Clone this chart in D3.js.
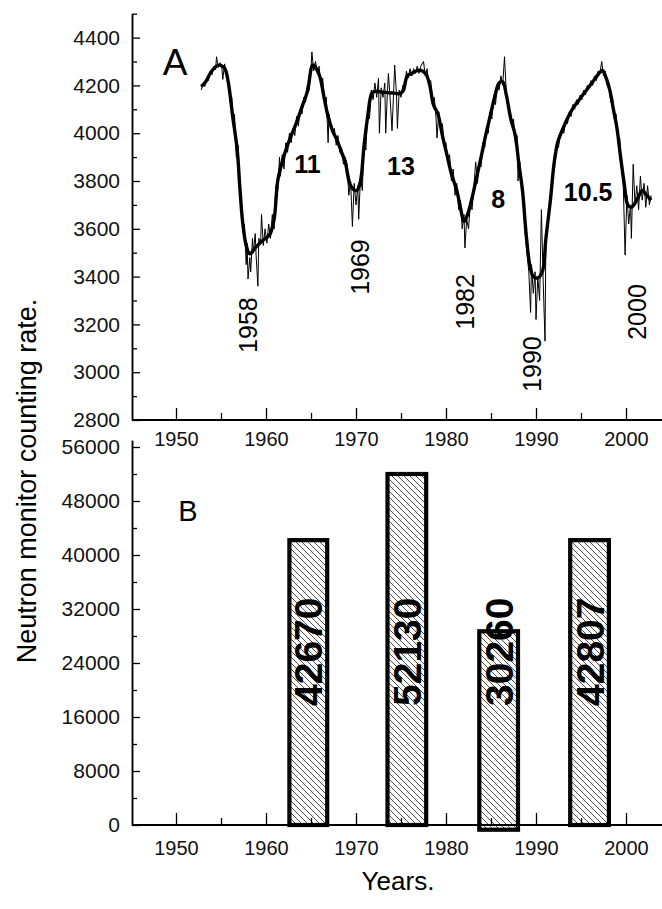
<!DOCTYPE html>
<html>
<head>
<meta charset="utf-8">
<script src="https://cdn.jsdelivr.net/npm/d3@7"></script>
<style>
  html, body { margin: 0; padding: 0; background: #fff; }
  svg { display: block; font-family: Arial, "Liberation Sans", sans-serif; }
</style>
</head>
<body>
<svg id="chart" width="662" height="909"></svg>
<script>
// ---------------- DATA ----------------
// Panel A: smoothed neutron monitor counting rate (thick line)
const smoothYears = [1952.8,1953.3,1953.8,1954.3,1954.8,1955.4,1955.8,1956.3,1956.8,1957.1,1957.4,1957.8,1958.2,1958.8,1959.6,1960.4,1960.9,1961.3,1961.8,1962.3,1962.8,1963.4,1964.0,1964.6,1965.2,1965.6,1966.0,1966.5,1966.9,1967.4,1967.9,1968.4,1968.8,1969.3,1969.7,1970.1,1970.5,1970.9,1971.3,1971.8,1972.3,1972.9,1973.5,1974.1,1974.7,1975.2,1975.7,1976.2,1976.8,1977.3,1977.8,1978.2,1978.6,1979.1,1979.6,1980.1,1980.6,1981.2,1981.6,1982.0,1982.4,1982.9,1983.4,1983.9,1984.4,1984.9,1985.4,1985.9,1986.3,1986.7,1987.2,1987.7,1988.1,1988.5,1988.9,1989.3,1989.7,1990.2,1990.7,1991.1,1991.6,1992.0,1992.4,1993.0,1993.6,1994.2,1994.8,1995.4,1996.0,1996.6,1997.1,1997.4,1997.8,1998.2,1998.6,1999.0,1999.4,1999.8,2000.2,2000.6,2001.2,2001.8,2002.3,2002.8];
const smoothRates = [4195,4215,4250,4275,4285,4272,4215,4070,3930,3770,3630,3530,3495,3520,3550,3575,3640,3800,3880,3940,3990,4045,4110,4175,4285,4270,4235,4140,4070,4010,3970,3920,3880,3790,3765,3760,3800,3950,4070,4170,4175,4172,4170,4168,4165,4175,4240,4250,4262,4262,4245,4200,4120,4080,3990,3910,3830,3760,3690,3630,3660,3730,3815,3900,3990,4070,4150,4210,4215,4160,4060,3990,3870,3760,3580,3450,3400,3395,3420,3560,3720,3870,3960,4020,4070,4110,4140,4170,4200,4230,4255,4262,4230,4180,4100,4020,3900,3790,3700,3690,3720,3760,3740,3720];

// Panel A: monthly (noisy) counting rate (thin line)
const monthlyYears = [1952.8,1953.0,1953.2,1953.4,1953.6,1953.8,1954.0,1954.2,1954.4,1954.5,1954.7,1954.9,1955.1,1955.2,1955.4,1955.6,1955.8,1956.0,1956.2,1956.3,1956.5,1956.7,1956.9,1957.1,1957.3,1957.5,1957.6,1957.8,1957.9,1958.0,1958.2,1958.3,1958.5,1958.6,1958.8,1958.9,1959.1,1959.2,1959.4,1959.5,1959.7,1959.9,1960.1,1960.3,1960.5,1960.7,1960.9,1961.1,1961.3,1961.5,1961.6,1961.8,1962.0,1962.2,1962.4,1962.6,1962.8,1963.0,1963.2,1963.4,1963.6,1963.8,1964.0,1964.2,1964.4,1964.6,1964.8,1965.0,1965.1,1965.3,1965.5,1965.7,1965.9,1966.1,1966.3,1966.5,1966.7,1966.9,1967.0,1967.2,1967.4,1967.6,1967.8,1968.0,1968.2,1968.4,1968.6,1968.8,1969.0,1969.2,1969.4,1969.6,1969.8,1970.0,1970.2,1970.3,1970.5,1970.7,1970.9,1971.1,1971.3,1971.5,1971.7,1971.9,1972.1,1972.3,1972.5,1972.6,1972.8,1973.0,1973.2,1973.3,1973.5,1973.6,1973.8,1974.0,1974.2,1974.3,1974.5,1974.6,1974.8,1975.0,1975.2,1975.4,1975.6,1975.8,1976.0,1976.2,1976.4,1976.6,1976.8,1977.0,1977.2,1977.5,1977.7,1977.9,1978.1,1978.3,1978.5,1978.7,1978.9,1979.0,1979.2,1979.4,1979.6,1979.8,1980.0,1980.2,1980.4,1980.6,1980.8,1981.0,1981.2,1981.4,1981.6,1981.8,1982.0,1982.1,1982.3,1982.5,1982.7,1982.9,1983.1,1983.3,1983.5,1983.7,1983.9,1984.1,1984.3,1984.5,1984.7,1984.9,1985.1,1985.3,1985.5,1985.7,1985.9,1986.1,1986.3,1986.5,1986.7,1986.9,1987.1,1987.3,1987.5,1987.7,1987.9,1988.0,1988.2,1988.4,1988.6,1988.8,1989.0,1989.2,1989.4,1989.5,1989.7,1989.9,1990.0,1990.2,1990.4,1990.6,1990.8,1991.0,1991.1,1991.3,1991.5,1991.7,1991.9,1992.1,1992.3,1992.5,1992.7,1992.9,1993.1,1993.3,1993.5,1993.7,1993.9,1994.1,1994.3,1994.5,1994.7,1994.9,1995.1,1995.3,1995.5,1995.7,1995.9,1996.1,1996.3,1996.5,1996.7,1996.9,1997.1,1997.3,1997.5,1997.7,1997.9,1998.1,1998.3,1998.5,1998.7,1998.9,1999.1,1999.3,1999.5,1999.7,1999.9,2000.1,2000.3,2000.5,2000.6,2000.8,2001.0,2001.2,2001.4,2001.6,2001.8,2002.0,2002.2,2002.4,2002.6,2002.8];
const monthlyRates = [4180,4205,4195,4230,4220,4260,4245,4280,4265,4320,4275,4295,4270,4225,4290,4250,4230,4130,4150,4040,4080,3900,3950,3740,3680,3580,3620,3450,3540,3390,3480,3420,3560,3500,3580,3490,3360,3560,3540,3660,3530,3600,3540,3620,3560,3660,3600,3780,3760,3900,3820,3910,3850,3960,3920,4000,3960,4020,3990,4070,4030,4100,4080,4150,4130,4200,4180,4270,4340,4260,4300,4250,4280,4200,4230,4120,4150,3960,4080,4030,4000,4020,3950,3990,3920,3940,3870,3900,3870,3740,3800,3610,3790,3700,3780,3640,3820,3760,3960,3930,4090,4060,4180,4140,4210,4150,4230,4000,4190,4150,4210,4000,4180,4250,4140,4010,4190,4285,4160,4020,4180,4150,4200,4180,4260,4230,4270,4240,4270,4250,4280,4250,4280,4300,4240,4270,4200,4220,4120,4150,4060,3980,4090,4020,4040,3950,3960,3880,3910,3800,3850,3740,3790,3680,3720,3600,3660,3520,3640,3600,3700,3680,3780,3880,3790,3880,3860,3960,3940,4020,4000,4090,4060,4160,4120,4200,4180,4240,4200,4320,4170,4120,4080,4030,4060,3960,3990,3800,3880,3760,3720,3580,3500,3420,3250,3450,3330,3420,3220,3400,3300,3680,3380,3130,3560,3620,3700,3760,3860,3900,3960,3940,4000,4020,4000,4060,4040,4090,4070,4120,4100,4140,4120,4160,4140,4180,4160,4200,4190,4220,4200,4240,4220,4260,4250,4300,4240,4260,4200,4210,4130,4150,4060,4080,3960,3980,3850,3780,3490,3740,3620,3700,3560,3870,3700,3780,3680,3820,3720,3790,3690,3780,3700,3740];

// Panel A annotations
const minYearLabels = ["1958","1969","1982","1990","2000"];
const minYearPos    = [1958.0, 1970.4, 1982.1, 1989.6, 2001.2];   // year at label centre
const minYearRate   = [3197, 3440, 3294, 3034, 3252];             // rate at label centre
const cycleLabels   = ["11","13","8","10.5"];
const cycleYearPos  = [1964.6, 1975.0, 1985.8, 1995.8];
const cycleRatePos  = [3870, 3862, 3725, 3754];

// Panel B: bars
const barLabels = ["42670","52130","30260","42807"];
const barStart  = [1962.6, 1973.5, 1983.7, 1993.8];
const barEnd    = [1966.8, 1977.8, 1988.0, 1998.1];
const barTop    = [42200, 52000, 28700, 42200];
const barBase   = [0, 0, -700, 0];

// Axis ticks
const yearTicks      = [1950,1960,1970,1980,1990,2000];
const yearMinorTicks = [1955,1965,1975,1985,1995];
const rateTicks      = [2800,3000,3200,3400,3600,3800,4000,4200,4400];
const rateMinorTicks = [2900,3100,3300,3500,3700,3900,4100,4300,4500];
const countTicks      = [0,8000,16000,24000,32000,40000,48000,56000];
const countMinorTicks = [4000,12000,20000,28000,36000,44000,52000];

// ---------------- LAYOUT ----------------
const svg = d3.select("#chart");
const x = d3.scaleLinear().domain([1945, 2005]).range([131, 671]);
const yA = d3.scaleLinear().domain([2800, 4500]).range([420, 13.7]);
const yB = d3.scaleLinear().domain([0, 57000]).range([825, 440.25]);

// hatch pattern
const defs = svg.append("defs");
const pat = defs.append("pattern").attr("id","hatch").attr("patternUnits","userSpaceOnUse")
  .attr("width",6).attr("height",6);
pat.append("rect").attr("width",6).attr("height",6).attr("fill","#fff");
pat.append("path").attr("d","M-1,-1 L7,7 M-1,5 L1,7 M5,-1 L7,1")
  .attr("stroke","#000").attr("stroke-width",0.7);

function styleAxis(g, fs) {
  g.selectAll("path.domain").attr("stroke","#000").attr("stroke-width",1.5);
  g.selectAll(".tick line").attr("stroke","#000").attr("stroke-width",1.3);
  g.selectAll("text").attr("font-size", fs).attr("fill","#111")
    .attr("font-family","Arial, 'Liberation Sans', sans-serif");
}

// ---- Panel A axes ----
const gyA = svg.append("g").attr("transform","translate(132,0)")
  .call(d3.axisLeft(yA).tickValues(rateTicks).tickSizeInner(-8).tickSizeOuter(0).tickPadding(12).tickFormat(d3.format("d")));
styleAxis(gyA, 21);
const gyAm = svg.append("g").attr("transform","translate(132,0)")
  .call(d3.axisLeft(yA).tickValues(rateMinorTicks).tickSizeInner(-5).tickSizeOuter(0).tickFormat(""));
styleAxis(gyAm, 21);

const gxA = svg.append("g").attr("transform","translate(0,420)")
  .call(d3.axisBottom(x).tickValues(yearTicks).tickSizeInner(-12).tickSizeOuter(0).tickPadding(12).tickFormat(d3.format("d")));
styleAxis(gxA, 20);
gxA.select("path.domain").attr("d","M132,0H662").attr("stroke-width",2);
const gxAm = svg.append("g").attr("transform","translate(0,420)")
  .call(d3.axisBottom(x).tickValues(yearMinorTicks).tickSizeInner(-7).tickSizeOuter(0).tickFormat(""));
styleAxis(gxAm, 20);
gxAm.select("path.domain").remove();

// ---- Panel A lines ----
const monthly = monthlyYears.map((yr,i)=>[yr, monthlyRates[i]]);
const smooth = smoothYears.map((yr,i)=>[yr, smoothRates[i]]);
svg.append("path").datum(monthly)
  .attr("fill","none").attr("stroke","#000").attr("stroke-width",1)
  .attr("d", d3.line().x(d=>x(d[0])).y(d=>yA(d[1])));
svg.append("path").datum(smooth)
  .attr("fill","none").attr("stroke","#000").attr("stroke-width",3.4)
  .attr("stroke-linejoin","round")
  .attr("d", d3.line().curve(d3.curveCatmullRom).x(d=>x(d[0])).y(d=>yA(d[1])));

// min-year labels (rotated)
svg.append("g").selectAll("text").data(minYearLabels).join("text")
  .attr("transform",(d,i)=>`translate(${x(minYearPos[i])},${yA(minYearRate[i])}) rotate(-90)`)
  .attr("text-anchor","middle").attr("dy","0.36em")
  .attr("font-size",25).attr("fill","#000").text(d=>d);

// cycle length labels
svg.append("g").selectAll("text").data(cycleLabels).join("text")
  .attr("x",(d,i)=>x(cycleYearPos[i])).attr("y",(d,i)=>yA(cycleRatePos[i]))
  .attr("text-anchor","middle").attr("dy","0.36em")
  .attr("font-size",25).attr("font-weight","bold").attr("fill","#000").text(d=>d);

svg.append("text").attr("x",175).attr("y",75).attr("text-anchor","middle")
  .attr("font-size",37).attr("fill","#000").text("A");

// ---- Panel B axes ----
const gyB = svg.append("g").attr("transform","translate(132,0)")
  .call(d3.axisLeft(yB).tickValues(countTicks).tickSizeInner(-8).tickSizeOuter(0).tickPadding(12).tickFormat(d3.format("d")));
styleAxis(gyB, 21);
const gyBm = svg.append("g").attr("transform","translate(132,0)")
  .call(d3.axisLeft(yB).tickValues(countMinorTicks).tickSizeInner(-5).tickSizeOuter(0).tickFormat(""));
styleAxis(gyBm, 21);

// bars
const bars = barLabels.map((lab,i)=>({lab, s:barStart[i], e:barEnd[i], top:barTop[i], base:barBase[i]}));
svg.append("g").selectAll("rect").data(bars).join("rect")
  .attr("x",d=>x(d.s)).attr("width",d=>x(d.e)-x(d.s))
  .attr("y",d=>yB(d.top)).attr("height",d=>yB(d.base)-yB(d.top))
  .attr("fill","url(#hatch)").attr("stroke","#000").attr("stroke-width",4.2);

const gxB = svg.append("g").attr("transform","translate(0,825)")
  .call(d3.axisBottom(x).tickValues(yearTicks).tickSizeInner(-12).tickSizeOuter(0).tickPadding(16).tickFormat(d3.format("d")));
styleAxis(gxB, 20);
gxB.select("path.domain").attr("d","M132,0H662").attr("stroke-width",2);
const gxBm = svg.append("g").attr("transform","translate(0,825)")
  .call(d3.axisBottom(x).tickValues(yearMinorTicks).tickSizeInner(-7).tickSizeOuter(0).tickFormat(""));
styleAxis(gxBm, 20);
gxBm.select("path.domain").remove();

// bar value labels (rotated)
svg.append("g").selectAll("text").data(bars).join("text")
  .attr("transform",d=>`translate(${(x(d.s)+x(d.e))/2},706) rotate(-90)`)
  .attr("text-anchor","start").attr("dy","0.36em")
  .attr("font-size",39).attr("font-weight","bold").attr("fill","#000").text(d=>d.lab);

svg.append("text").attr("x",188).attr("y",521).attr("text-anchor","middle")
  .attr("font-size",29).attr("fill","#000").text("B");

// axis titles
svg.append("text").attr("transform","translate(36,481) rotate(-90)")
  .attr("text-anchor","middle").attr("font-size",27).attr("fill","#000")
  .text("Neutron monitor counting rate.");
svg.append("text").attr("x",398).attr("y",890).attr("text-anchor","middle")
  .attr("font-size",26).attr("fill","#000").text("Years.");
</script>
</body>
</html>
